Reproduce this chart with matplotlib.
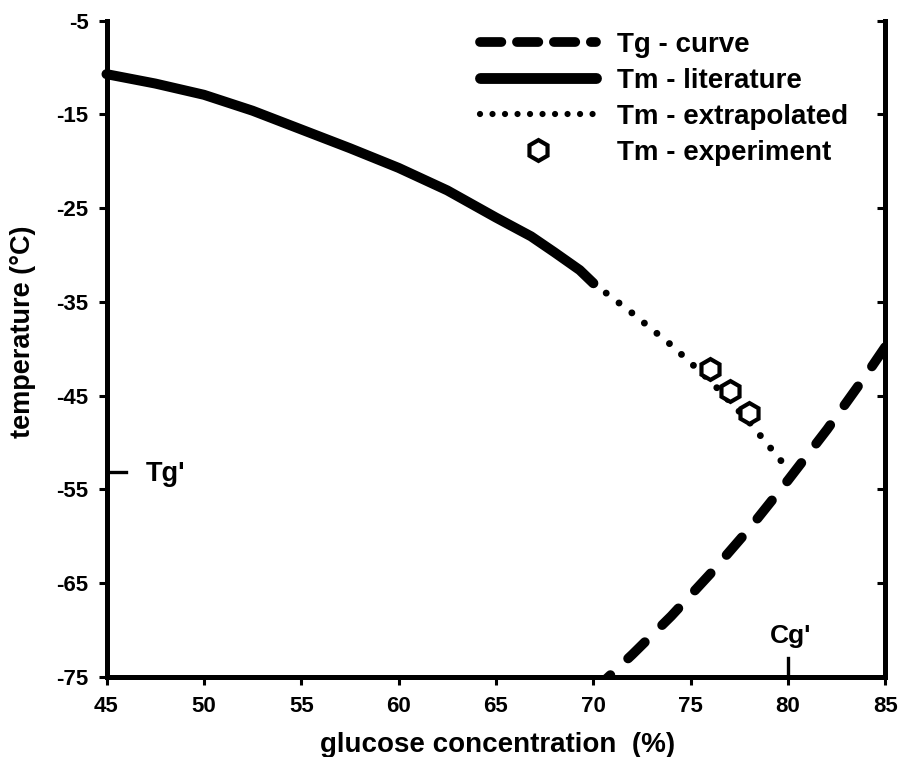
import matplotlib
matplotlib.use("Agg")
import matplotlib.pyplot as plt
from matplotlib.lines import Line2D

plt.rcParams['font.family'] = ['Liberation Sans', 'DejaVu Sans']
plt.rcParams['font.weight'] = 'bold'

# ---- data ----
tm_lit_x = [45, 46, 47.5, 50, 52.5, 55, 57.5, 60, 62.5, 65, 66.8, 68, 69.3, 70]
tm_lit_y = [-10.7, -11.1, -11.7, -12.9, -14.6, -16.6, -18.6, -20.7, -23.1, -26.0, -28.0, -29.7, -31.6, -33.0]

tm_ext_x = [70, 72, 74, 76, 78, 79.7]
tm_ext_y = [-33.0, -36.2, -39.6, -43.4, -47.8, -52.1]

tm_exp_x = [76, 77, 78]
tm_exp_y = [-42.2, -44.5, -46.8]

tg_x = [70, 72, 74, 76, 78, 80, 82, 84, 86]
tg_y = [-76.5, -72.6, -68.5, -64.0, -59.2, -54.0, -48.6, -42.8, -36.7]

tg_prime = -53.1
cg_prime = 80

xticks = [45, 50, 55, 60, 65, 70, 75, 80, 85]
yticks = [-5, -15, -25, -35, -45, -55, -65, -75]

labels = ["Tg - curve", "Tm - literature", "Tm - extrapolated", "Tm - experiment"]

W, H = 900, 757
fig = plt.figure(figsize=(W / 100, H / 100), dpi=100)
ax = fig.add_axes([106.5 / W, 1 - 677 / H, (885.5 - 106.5) / W, (677 - 20.7) / H])

ax.plot(tg_x, tg_y, color='black', lw=7, linestyle=(0, (2.4, 2.5)),
        dash_capstyle='round')
ax.plot(tm_lit_x, tm_lit_y, color='black', lw=7.2, solid_capstyle='round',
        solid_joinstyle='round', clip_on=False)
ax.plot(tm_ext_x, tm_ext_y, color='black', lw=5, linestyle=(0, (0.001, 2.33)),
        dash_capstyle='round')
ax.plot(tm_exp_x, tm_exp_y, linestyle='none', marker='h', markersize=15,
        markerfacecolor='white', markeredgecolor='black', markeredgewidth=3,
        zorder=5)

ax.set_xlim(45, 85)
ax.set_ylim(-75, -5)
ax.set_xticks(xticks)
ax.set_yticks(yticks)
ax.set_xticklabels([str(v) for v in xticks])
ax.set_yticklabels([str(v) for v in yticks])

for s in ['left', 'bottom', 'right']:
    ax.spines[s].set_linewidth(3.6)
ax.spines['top'].set_visible(False)

ax.tick_params(axis='both', which='major', labelsize=16, width=2.2, length=6)
ax.tick_params(axis='y', direction='out', pad=7)
ax.tick_params(axis='x', direction='out', pad=8)

ax2 = ax.twinx()
ax2.set_ylim(ax.get_ylim())
ax2.set_yticks(yticks)
ax2.set_yticklabels([])
ax2.tick_params(axis='y', direction='in', width=2.2, length=6)
for s in ['left', 'bottom', 'right', 'top']:
    ax2.spines[s].set_visible(False)

fig.text(498 / W, 1 - 752 / H, "glucose concentration  (%)", fontsize=20,
         fontweight='bold', ha='center', va='baseline')
fig.text(23 / W, 1 - 332 / H, "temperature (°C)", fontsize=19.5,
         fontweight='bold', ha='center', va='center', rotation=90)

# Tg' marker
ax.plot([45, 46], [tg_prime, tg_prime], color='black', lw=2.4, clip_on=False)
ax.text(47.0, tg_prime - 0.2, "Tg'", fontsize=19.5, fontweight='bold', va='center', ha='left')
# Cg' marker
ax.plot([cg_prime, cg_prime], [-75, -73], color='black', lw=2.4, clip_on=False)
ax.text(cg_prime + 0.1, -71.4, "Cg'", fontsize=19, fontweight='bold', va='baseline', ha='center')

handles = [
    Line2D([], [], color='black', lw=7, linestyle=(0, (2.2, 1.6)), dash_capstyle='round'),
    Line2D([], [], color='black', lw=7.8, solid_capstyle='round'),
    Line2D([], [], color='black', lw=4.5, linestyle=(0, (0.001, 2.0)), dash_capstyle='round'),
    Line2D([], [], linestyle='none', marker='h', markersize=15, markerfacecolor='white',
           markeredgecolor='black', markeredgewidth=3),
]
leg = fig.legend(handles, labels, loc='upper left', bbox_to_anchor=(469 / W, 1 - 21 / H),
                 bbox_transform=fig.transFigure, borderaxespad=0,
                 frameon=False, handlelength=4.17, handletextpad=0.75,
                 labelspacing=0.36, numpoints=1,
                 prop={'family': 'Liberation Sans', 'weight': 'bold', 'size': 20})

fig.savefig("out.png", dpi=100)
